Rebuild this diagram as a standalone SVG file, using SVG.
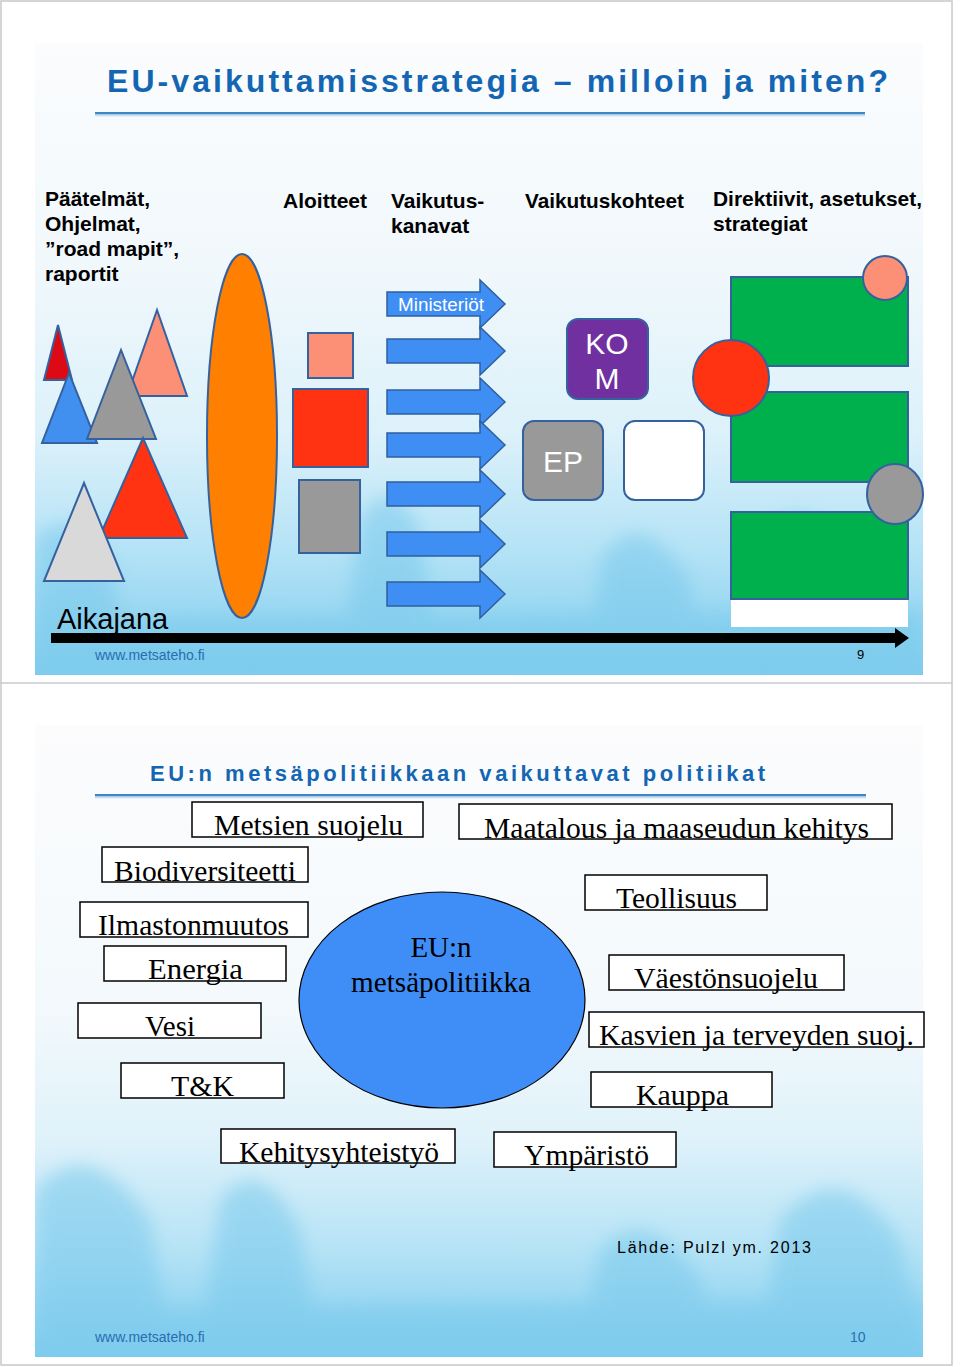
<svg xmlns="http://www.w3.org/2000/svg" width="960" height="1367" viewBox="0 0 960 1367">
<defs>
<linearGradient id="bg1" x1="0" y1="0" x2="0" y2="1">
<stop offset="0" stop-color="#fbfcfd"/>
<stop offset="0.35" stop-color="#f1f8fc"/>
<stop offset="0.62" stop-color="#dcf1fa"/>
<stop offset="0.8" stop-color="#b5e3f6"/>
<stop offset="1" stop-color="#7fcdee"/>
</linearGradient>
<linearGradient id="bg2" x1="0" y1="0" x2="0" y2="1">
<stop offset="0" stop-color="#fcfcfd"/>
<stop offset="0.45" stop-color="#f3f9fc"/>
<stop offset="0.65" stop-color="#e0f2fa"/>
<stop offset="0.82" stop-color="#b8e4f6"/>
<stop offset="1" stop-color="#7fcdee"/>
</linearGradient>
<linearGradient id="uline" x1="0" y1="0" x2="0" y2="1">
<stop offset="0" stop-color="#3f86c6"/>
<stop offset="1" stop-color="#3f86c6" stop-opacity="0"/>
</linearGradient>
<filter id="blur" x="-20%" y="-20%" width="140%" height="140%"><feGaussianBlur stdDeviation="9"/></filter>
<clipPath id="c1"><rect x="35" y="43" width="888" height="632"/></clipPath>
<clipPath id="c2"><rect x="35" y="725" width="888" height="632"/></clipPath>
</defs>
<style>
.sh{stroke:#35619e;stroke-width:2}
.hd{font-family:"Liberation Sans",Arial,sans-serif;font-weight:bold;font-size:21px;fill:#000}
.ttl{font-family:"Liberation Sans",Arial,sans-serif;font-weight:bold;fill:#1466b3}
.web{font-family:"Liberation Sans",Arial,sans-serif;font-size:14px;fill:#2a6db0}
.arr{fill:#3f8ef3;stroke:#2f5f9f;stroke-width:1.5}
.box{fill:#fff;stroke:#000;stroke-width:1.5}
.bt{font-family:"Liberation Serif","Times New Roman",serif;font-size:29px;fill:#000}
.wt{font-family:"Liberation Sans",Arial,sans-serif;fill:#fff}
</style>
<rect x="0" y="0" width="960" height="1367" fill="#fff"/>
<rect x="1" y="1" width="951" height="1364" fill="none" stroke="#c8c8c8" stroke-width="1.5"/>
<line x1="0" y1="683" x2="952" y2="683" stroke="#c8c8d0" stroke-width="1.5"/>

<g id="slide1-bg" clip-path="url(#c1)">
<rect x="35" y="43" width="888" height="632" fill="url(#bg1)"/>
<g fill="#79c9ec" opacity="0.55" filter="url(#blur)">
<path d="M35 540 Q70 500 110 560 L130 675 L35 675Z"/>
<path d="M360 520 Q390 470 420 530 L440 675 L340 675Z"/>
<path d="M600 560 Q640 500 690 580 L700 675 L590 675Z"/>
<path d="M760 540 Q800 480 850 560 L870 675 L740 675Z"/>
<path d="M35 620 L923 610 L923 675 L35 675Z"/>
</g>
</g>
<g id="slide2-bg" clip-path="url(#c2)">
<rect x="35" y="725" width="888" height="632" fill="url(#bg2)"/>
<g fill="#79c9ec" opacity="0.55" filter="url(#blur)">
<path d="M35 1190 Q90 1130 150 1220 L170 1357 L35 1357Z"/>
<path d="M220 1200 Q260 1150 300 1230 L320 1357 L200 1357Z"/>
<path d="M600 1250 Q650 1200 700 1280 L720 1357 L580 1357Z"/>
<path d="M780 1220 Q840 1150 900 1240 L923 1357 L760 1357Z"/>
<path d="M35 1310 L923 1300 L923 1357 L35 1357Z"/>
</g>
</g>

<g id="title1">
<text class="ttl" x="107" y="92" font-size="32" textLength="781" lengthAdjust="spacing">EU-vaikuttamisstrategia – milloin ja miten?</text>
<rect x="95" y="112" width="770" height="2" fill="#3f86c6"/>
<rect x="95" y="114" width="770" height="3" fill="url(#uline)" opacity="0.5"/>
</g>

<g id="headers">
<text class="hd" x="45" y="206">Päätelmät,</text>
<text class="hd" x="45" y="231">Ohjelmat,</text>
<text class="hd" x="45" y="256">”road mapit”,</text>
<text class="hd" x="45" y="281">raportit</text>
<text class="hd" x="283" y="208">Aloitteet</text>
<text class="hd" x="391" y="208">Vaikutus-</text>
<text class="hd" x="391" y="233">kanavat</text>
<text class="hd" x="525" y="208" textLength="159" lengthAdjust="spacingAndGlyphs">Vaikutuskohteet</text>
<text class="hd" x="713" y="206" textLength="209" lengthAdjust="spacingAndGlyphs">Direktiivit, asetukset,</text>
<text class="hd" x="713" y="231">strategiat</text>
</g>

<g id="triangles">
<polygon class="sh" points="58,325 44,380 72,380" fill="#dc0a14"/>
<polygon class="sh" points="69,373 42,443 97,443" fill="#4190f0"/>
<polygon class="sh" points="157,310 127,396 187,396" fill="#fb9077"/>
<polygon class="sh" points="121,350 87,439 156,439" fill="#999999"/>
<polygon class="sh" points="143,438 99,538 187,538" fill="#ff3311"/>
<polygon class="sh" points="84,483 44,581 124,581" fill="#d9d9d9"/>
</g>

<g id="ellipse-orange">
<ellipse class="sh" cx="242" cy="436" rx="35" ry="182" fill="#ff8000"/>
</g>

<g id="squares">
<rect class="sh" x="308" y="333" width="45" height="45" fill="#fb9077"/>
<rect class="sh" x="293" y="389" width="75" height="78" fill="#ff3311"/>
<rect class="sh" x="299" y="480" width="61" height="73" fill="#999999"/>
</g>

<g id="channels">
<path class="arr" d="M387 292 H480 V280 L505 304 L480 328 V316 H387Z"/>
<text class="wt" x="398" y="311" font-size="17.5" textLength="86" lengthAdjust="spacingAndGlyphs">Ministeriöt</text>
<path class="arr" d="M387 339 H480 V327 L505 351 L480 375 V363 H387Z"/>
<path class="arr" d="M387 390 H480 V378 L505 402 L480 426 V414 H387Z"/>
<path class="arr" d="M387 433 H480 V421 L505 445 L480 469 V457 H387Z"/>
<path class="arr" d="M387 482 H480 V470 L505 494 L480 518 V506 H387Z"/>
<path class="arr" d="M387 532 H480 V520 L505 544 L480 568 V556 H387Z"/>
<path class="arr" d="M387 582 H480 V570 L505 594 L480 618 V606 H387Z"/>
</g>

<g id="kom">
<rect class="sh" x="567" y="319" width="81" height="80" rx="11" fill="#7030a0"/>
<text class="wt" x="607" y="354" font-size="30" text-anchor="middle">KO</text>
<text class="wt" x="607" y="389" font-size="30" text-anchor="middle">M</text>
</g>
<g id="ep">
<rect class="sh" x="523" y="421" width="80" height="79" rx="11" fill="#999999"/>
<text class="wt" x="563" y="472" font-size="30" text-anchor="middle">EP</text>
</g>
<g id="white-box">
<rect class="sh" x="624" y="421" width="80" height="79" rx="11" fill="#ffffff"/>
</g>

<g id="directives">
<rect class="sh" x="731" y="277" width="177" height="89" fill="#00b04c"/>
<rect class="sh" x="731" y="392" width="177" height="90" fill="#00b04c"/>
<rect class="sh" x="731" y="512" width="177" height="87" fill="#00b04c"/>
<rect x="731" y="600" width="177" height="27" fill="#ffffff"/>
<circle class="sh" cx="885" cy="278" r="22" fill="#fb9077"/>
<circle class="sh" cx="731" cy="378" r="38" fill="#ff3311"/>
<ellipse class="sh" cx="895" cy="494" rx="28" ry="30" fill="#999999"/>
</g>

<g id="connectors">
<path d="M51 633 H895 V628 L909 638 L895 648 V643 H51Z" fill="#000"/>
</g>

<g id="footer1">
<text x="57" y="629" font-family="Liberation Sans,Arial,sans-serif" font-size="29" fill="#000">Aikajana</text>
<text class="web" x="95" y="660">www.metsateho.fi</text>
<text x="857" y="659" font-family="Liberation Sans,Arial,sans-serif" font-size="13" fill="#000">9</text>
</g>

<g id="title2">
<text class="ttl" x="150" y="781" font-size="22" textLength="615" lengthAdjust="spacing">EU:n metsäpolitiikkaan vaikuttavat politiikat</text>
<rect x="95" y="794" width="771" height="2" fill="#3f86c6"/>
<rect x="95" y="796" width="771" height="3" fill="url(#uline)" opacity="0.5"/>
</g>

<g id="center">
<ellipse cx="442" cy="1000" rx="143" ry="108" fill="#3f8ef8" stroke="#000" stroke-width="1.2"/>
<text class="bt" x="441" y="957" text-anchor="middle">EU:n</text>
<text class="bt" x="441" y="992" text-anchor="middle" textLength="180" lengthAdjust="spacingAndGlyphs">metsäpolitiikka</text>
</g>

<g id="n-metsien">
<rect class="box" x="192" y="802" width="231" height="35"/>
<text class="bt" x="214" y="835" textLength="189" lengthAdjust="spacingAndGlyphs">Metsien suojelu</text>
</g>
<g id="n-maatalous">
<rect class="box" x="459" y="804" width="433" height="35"/>
<text class="bt" x="484" y="838" textLength="385" lengthAdjust="spacingAndGlyphs">Maatalous ja maaseudun kehitys</text>
</g>
<g id="n-bio">
<rect class="box" x="102" y="847" width="206" height="35"/>
<text class="bt" x="114" y="881" textLength="182" lengthAdjust="spacingAndGlyphs">Biodiversiteetti</text>
</g>
<g id="n-teollisuus">
<rect class="box" x="585" y="875" width="182" height="35"/>
<text class="bt" x="616" y="908" textLength="121" lengthAdjust="spacingAndGlyphs">Teollisuus</text>
</g>
<g id="n-ilmasto">
<rect class="box" x="80" y="902" width="228" height="35"/>
<text class="bt" x="98" y="935" textLength="191" lengthAdjust="spacingAndGlyphs">Ilmastonmuutos</text>
</g>
<g id="n-energia">
<rect class="box" x="104" y="946" width="182" height="35"/>
<text class="bt" x="148" y="979" textLength="95" lengthAdjust="spacingAndGlyphs">Energia</text>
</g>
<g id="n-vaesto">
<rect class="box" x="609" y="955" width="235" height="35"/>
<text class="bt" x="634" y="988" textLength="184" lengthAdjust="spacingAndGlyphs">Väestönsuojelu</text>
</g>
<g id="n-vesi">
<rect class="box" x="78" y="1003" width="183" height="35"/>
<text class="bt" x="145" y="1036" textLength="50" lengthAdjust="spacingAndGlyphs">Vesi</text>
</g>
<g id="n-kasvien">
<rect class="box" x="589" y="1012" width="335" height="35"/>
<text class="bt" x="599" y="1045" textLength="315" lengthAdjust="spacingAndGlyphs">Kasvien ja terveyden suoj.</text>
</g>
<g id="n-tk">
<rect class="box" x="121" y="1063" width="163" height="35"/>
<text class="bt" x="171" y="1096" textLength="63" lengthAdjust="spacingAndGlyphs">T&amp;K</text>
</g>
<g id="n-kauppa">
<rect class="box" x="591" y="1072" width="181" height="35"/>
<text class="bt" x="636" y="1105" textLength="93" lengthAdjust="spacingAndGlyphs">Kauppa</text>
</g>
<g id="n-kehitys">
<rect class="box" x="221" y="1129" width="234" height="34"/>
<text class="bt" x="239" y="1162" textLength="200" lengthAdjust="spacingAndGlyphs">Kehitysyhteistyö</text>
</g>
<g id="n-ymparisto">
<rect class="box" x="494" y="1132" width="182" height="35"/>
<text class="bt" x="524" y="1165" textLength="125" lengthAdjust="spacingAndGlyphs">Ympäristö</text>
</g>

<g id="footer2">
<text x="617" y="1253" font-family="Liberation Sans,Arial,sans-serif" font-size="16" fill="#000" textLength="194" lengthAdjust="spacing">Lähde: Pulzl ym. 2013</text>
<text class="web" x="95" y="1342">www.metsateho.fi</text>
<text class="web" x="850" y="1342" font-size="13">10</text>
</g>
</svg>
